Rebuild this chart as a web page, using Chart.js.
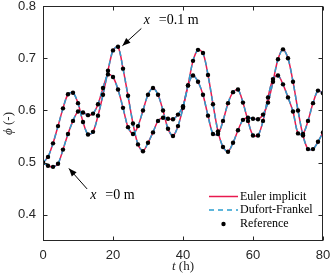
<!DOCTYPE html>
<html><head><meta charset="utf-8">
<script src="https://cdn.jsdelivr.net/npm/chart.js@4.4.0/dist/chart.umd.min.js"></script>
<style>html,body{margin:0;padding:0;background:#fff;}</style>
</head><body>
<canvas id="c" width="332" height="278" style="display:block;width:332px;height:278px"></canvas>
<script>
// ---- data ----
const timeHours = [0,1.43,2.86,4.29,5.71,7.14,8.57,10,11.43,12.86,14.29,15.71,17.14,18.57,20,21.43,22.86,24.29,25.71,27.14,28.57,30,31.43,32.86,34.29,35.71,37.14,38.57,40,41.43,42.86,44.29,45.71,47.14,48.57,50,51.43,52.86,54.29,55.71,57.14,58.57,60,61.43,62.86,64.29,65.71,67.14,68.57,70,71.43,72.86,74.29,75.71,77.14,78.57,80];
const phiX01 = [0.500,0.511,0.537,0.570,0.604,0.631,0.634,0.614,0.578,0.554,0.559,0.590,0.630,0.676,0.715,0.722,0.680,0.628,0.575,0.535,0.522,0.538,0.558,0.580,0.586,0.584,0.583,0.592,0.608,0.648,0.695,0.716,0.710,0.668,0.612,0.560,0.530,0.521,0.538,0.562,0.582,0.586,0.584,0.583,0.592,0.615,0.655,0.698,0.717,0.700,0.655,0.600,0.552,0.526,0.526,0.540,0.558];
const phiX0 = [0.500,0.494,0.492,0.498,0.525,0.555,0.580,0.598,0.596,0.591,0.594,0.612,0.643,0.669,0.664,0.640,0.605,0.568,0.555,0.570,0.600,0.630,0.643,0.630,0.600,0.565,0.551,0.570,0.605,0.648,0.667,0.655,0.630,0.590,0.555,0.555,0.580,0.614,0.635,0.640,0.615,0.580,0.552,0.552,0.580,0.625,0.660,0.667,0.650,0.625,0.598,0.556,0.555,0.580,0.614,0.638,0.633];
const xTicks = [0,20,40,60,80];
const yTicks = [0.4,0.5,0.6,0.7,0.8];
const seriesNames = ['Euler implicit','Dufort-Frankel','Reference'];
// annotation anchors in data units [t, phi]
const note01 = {label:'=0.1 m', text:[28.8,0.773], tail:[28.1,0.757], tip:[22.7,0.724]};
const note0  = {label:'=0 m',   text:[13.5,0.437], tail:[12.6,0.4497], tip:[7.4,0.489]};

const RED = '#E8194F', BLUE = '#2A9FD0', AXIS = '#262626';
const mk = arr => timeHours.map((t,i)=>({x:t,y:arr[i]}));

function arrow(ctx, x1,y1,x2,y2){
  ctx.beginPath(); ctx.moveTo(x1,y1); ctx.lineTo(x2,y2); ctx.stroke();
  const ang = Math.atan2(y2-y1,x2-x1), L=8, W=3.2;
  const bx = x2 - L*Math.cos(ang), by = y2 - L*Math.sin(ang);
  ctx.beginPath(); ctx.moveTo(x2,y2);
  ctx.lineTo(bx + W*Math.sin(ang), by - W*Math.cos(ang));
  ctx.lineTo(bx - W*Math.sin(ang), by + W*Math.cos(ang));
  ctx.closePath(); ctx.fill();
}

const deco = {
  id:'deco',
  afterDraw(chart){
    const {ctx, chartArea:a, scales:{x,y}} = chart;
    ctx.save();
    ctx.strokeStyle = AXIS; ctx.fillStyle = AXIS; ctx.lineWidth = 1;
    const L = Math.round(a.left)+0.5, R = Math.round(a.right)-0.5, T = Math.round(a.top)+0.5, B = Math.round(a.bottom)-0.5;
    ctx.strokeRect(L, T, R-L, B-T);
    ctx.beginPath();
    xTicks.forEach(v=>{const px=Math.round(x.getPixelForValue(v))+0.5; ctx.moveTo(px,B); ctx.lineTo(px,B-4); ctx.moveTo(px,T); ctx.lineTo(px,T+4);});
    yTicks.forEach(v=>{const py=Math.round(y.getPixelForValue(v))+0.5; ctx.moveTo(L,py); ctx.lineTo(L+4,py); ctx.moveTo(R,py); ctx.lineTo(R-4,py);});
    ctx.stroke();

    // axis titles
    ctx.fillStyle = AXIS; ctx.textBaseline = 'middle';
    const cx = (a.left+a.right)/2;
    ctx.font = 'italic 13px "Liberation Serif"'; const wt = ctx.measureText('t').width;
    ctx.font = '13px "Liberation Serif"'; const wh = ctx.measureText(' (h)').width;
    let sx = cx - (wt+wh)/2;
    ctx.font = 'italic 13px "Liberation Serif"'; ctx.textAlign='left'; ctx.fillText('t', sx, 267);
    ctx.font = '13px "Liberation Serif"'; ctx.fillText(' (h)', sx+wt, 267);
    ctx.save();
    ctx.translate(9, (a.top+a.bottom)/2); ctx.rotate(-Math.PI/2);
    ctx.font = 'italic 13px "Liberation Serif"'; const wp = ctx.measureText('\u03D5').width;
    ctx.font = '13px "Liberation Serif"'; const wm = ctx.measureText(' (-)').width;
    sx = -(wp+wm)/2;
    ctx.font = 'italic 13px "Liberation Serif"'; ctx.fillText('\u03D5', sx, 0);
    ctx.font = '13px "Liberation Serif"'; ctx.fillText(' (-)', sx+wp, 0);
    ctx.restore();

    // annotations
    ctx.fillStyle = '#000'; ctx.strokeStyle = '#000'; ctx.lineWidth = 1;
    [note01, note0].forEach(n=>{
      const tx = x.getPixelForValue(n.text[0]), ty = y.getPixelForValue(n.text[1]);
      ctx.font = 'italic 14px "Liberation Serif"'; ctx.textAlign='left';
      ctx.fillText('x', tx, ty);
      ctx.font = '14px "Liberation Serif"';
      ctx.fillText(n.label, tx+15, ty);
      arrow(ctx, x.getPixelForValue(n.tail[0]), y.getPixelForValue(n.tail[1]), x.getPixelForValue(n.tip[0]), y.getPixelForValue(n.tip[1]));
    });

    // legend
    const lx0 = 209, lx1 = 238, tx = 240, rows = [196.5, 210, 224];
    ctx.font = '12px "Liberation Serif"'; ctx.fillStyle = '#000';
    ctx.lineWidth = 1.5;
    ctx.strokeStyle = RED; ctx.setLineDash([]);
    ctx.beginPath(); ctx.moveTo(lx0, rows[0]); ctx.lineTo(lx1, rows[0]); ctx.stroke();
    ctx.strokeStyle = BLUE; ctx.setLineDash([5,4]);
    ctx.beginPath(); ctx.moveTo(lx0, rows[1]); ctx.lineTo(lx1, rows[1]); ctx.stroke();
    ctx.setLineDash([]);
    ctx.beginPath(); ctx.arc((lx0+lx1)/2, rows[2], 2.2, 0, Math.PI*2); ctx.fill();
    seriesNames.forEach((s,i)=>ctx.fillText(s, tx, rows[i]));
    ctx.restore();
  }
};

const lineDs = (label, arr, color, dash, order) => ({label, data: mk(arr), borderColor: color, borderWidth: 1.5, borderDash: dash, pointRadius: 0, tension: 0.3, fill: false, order});
const refDs = arr => ({label: seriesNames[2], data: mk(arr), showLine: false, pointRadius: 2.2, pointBackgroundColor: '#000', pointBorderWidth: 0, borderColor: '#000', order: 1});

new Chart(document.getElementById('c'), {
  type: 'line',
  data: { datasets: [
    lineDs(seriesNames[0], phiX0, RED, [], 3),
    lineDs(seriesNames[0], phiX01, RED, [], 3),
    lineDs(seriesNames[1], phiX0, BLUE, [5,4], 2),
    lineDs(seriesNames[1], phiX01, BLUE, [5,4], 2),
    refDs(phiX0), refDs(phiX01)
  ]},
  options: {
    responsive: false, animation: false, devicePixelRatio: 1,
    layout: { padding: { top: 6, right: 9, left: 0, bottom: 0 } },
    plugins: { legend: { display: false }, tooltip: { enabled: false } },
    scales: {
      x: { type: 'linear', min: 0, max: 80,
        grid: { display: false, drawTicks: false }, border: { display: false },
        ticks: { stepSize: 20, color: AXIS, padding: 7, font: { family: '"Liberation Sans", Arial', size: 13 }, maxRotation: 0 },
        afterBuildTicks: s => { s.ticks = xTicks.map(v=>({value:v})); },
        afterFit: s => { s.height = 37; s.paddingLeft = 0; s.paddingRight = 0; } },
      y: { min: 0.35, max: 0.8,
        grid: { display: false, drawTicks: false }, border: { display: false },
        ticks: { color: AXIS, padding: 7, font: { family: '"Liberation Sans", Arial', size: 13 }, callback: v => v.toFixed(1) },
        afterBuildTicks: s => { s.ticks = yTicks.map(v=>({value:v})); },
        afterFit: s => { s.width = 43; s.paddingTop = 0; s.paddingBottom = 0; } }
    }
  },
  plugins: [deco]
});
</script>
</body></html>
